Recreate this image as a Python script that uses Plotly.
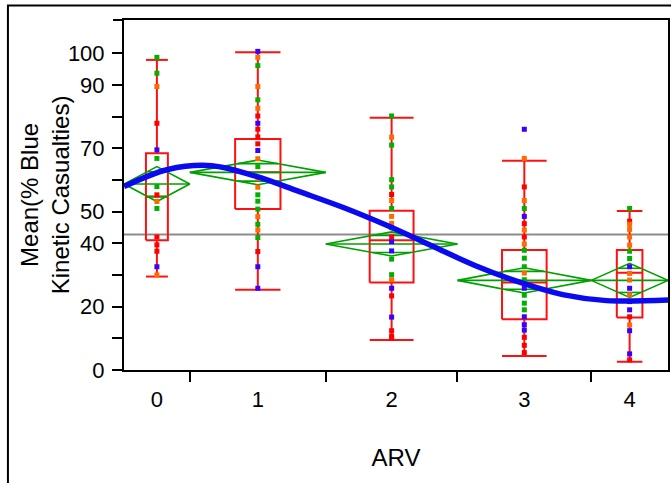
import math
import plotly.graph_objects as go

# ---------------- data ----------------
categories = ["0", "1", "2", "3", "4"]
group_width = [15, 31, 30, 30.5, 17.5]          # relative group sizes (axis width per category)

box_q1 = [41.0, 50.8, 27.6, 16.0, 16.6]
box_median = [54.7, 62.4, 41.0, 27.6, 30.7]
box_q3 = [68.4, 72.9, 50.3, 37.9, 37.9]
whisker_low = [29.5, 25.3, 9.5, 4.4, 2.6]
whisker_high = [97.9, 100.3, 79.6, 66.1, 50.2]

group_mean = [58.7, 62.4, 39.8, 28.3, 28.3]
mean_ci_half = [5.5, 3.9, 3.8, 4.0, 5.4]
grand_mean = 42.8

fit_x = [0, 10, 20, 30, 40, 50, 60, 70, 80, 90, 100, 110, 124]
fit_y = [57.9, 63.3, 64.5, 61.2, 56.3, 51.3, 45.6, 39.3, 33.0, 27.8, 23.8, 21.9, 22.1]

points_0 = [98.7, 93.7, 89.5, 77.9, 69.5, 66.8, 57.9, 55.3, 53.2, 51.0, 42.0, 39.5, 37.5, 32.6, 30.0]
colors_0 = "ggorbggrogrrrbo"
points_1 = [100.6, 98.7, 96.1, 89.5, 85.3, 82.6, 80.2, 77.9, 76.0, 73.6, 71.4, 69.3, 66.7, 64.2,
            60.4, 57.7, 55.3, 53.3, 50.8, 48.4, 46.0, 44.2, 41.8, 37.4, 32.6, 25.8]
colors_1 = "bogogorbrrrbogoogggogogrbbb"
points_2 = [80.2, 73.5, 71.0, 60.1, 57.8, 55.4, 53.5, 51.0, 48.5, 46.3, 44.9, 42.0, 40.5, 37.6,
            35.0, 30.1, 28.5, 25.8, 23.4, 16.7, 12.4, 10.7, 10.0]
colors_2 = "gogggrogoogrbbggobrbrrr"
points_3 = [76.0, 66.8, 57.8, 53.5, 51.0, 48.5, 46.2, 44.2, 42.0, 39.8, 37.8, 35.3, 32.6, 30.6,
            28.5, 25.8, 23.6, 21.1, 19.0, 16.8, 14.3, 12.6, 10.3, 7.8, 5.5]
colors_3 = "borogbrorogggogbgggbbbrrrr"
points_4 = [51.0, 47.0, 46.0, 44.4, 42.0, 39.4, 37.5, 35.2, 32.6, 30.5, 28.4, 25.8, 23.7, 21.6,
            19.0, 16.8, 14.2, 12.4, 5.1, 3.2]
colors_4 = "grooooggboobobbrobbr"

group_points = [points_0, points_1, points_2, points_3, points_4]
group_colors = [colors_0, colors_1, colors_2, colors_3, colors_4]

y_ticks = [0, 10, 20, 30, 40, 50, 60, 70, 80, 90, 100]
y_ticktext = ["0", "", "20", "", "40", "50", "", "70", "", "90", "100"]

# ---------------- styles ----------------
COLOR_MAP = {"r": "#FF0000", "o": "#FF6A00", "g": "#00B000", "b": "#3A00FF"}
BOX_COLOR = "#FF1010"
DIAMOND_COLOR = "#00A000"
FONT = "Arial, Liberation Sans, sans-serif"

lefts = []
acc = 0.0
for w in group_width:
    lefts.append(acc)
    acc += w
total_width = acc
centers = [l + w / 2 for l, w in zip(lefts, group_width)]
boundaries = lefts[1:]

fig = go.Figure()

# grand mean line
fig.add_trace(go.Scatter(x=[0, total_width], y=[grand_mean, grand_mean], mode="lines",
                         line=dict(color="#8C8C8C", width=2), hoverinfo="skip", showlegend=False))

# box plots
for i in range(len(categories)):
    c = centers[i]
    hw = group_width[i] / 6
    q1, med, q3 = box_q1[i], box_median[i], box_q3[i]
    lo, hi = whisker_low[i], whisker_high[i]
    xs = [c - hw, c + hw, c + hw, c - hw, c - hw, None,
          c - hw, c + hw, None,
          c, c, None, c, c, None,
          c - hw, c + hw, None, c - hw, c + hw]
    ys = [q1, q1, q3, q3, q1, None,
          med, med, None,
          q3, hi, None, q1, lo, None,
          hi, hi, None, lo, lo]
    fig.add_trace(go.Scatter(x=xs, y=ys, mode="lines", line=dict(color=BOX_COLOR, width=2),
                             hoverinfo="skip", showlegend=False))

# means diamonds
for i in range(len(categories)):
    L = lefts[i]
    R = lefts[i] + group_width[i]
    c = centers[i]
    m = group_mean[i]
    h = mean_ci_half[i]
    d = h / math.sqrt(2)
    cw = group_width[i] / 2 * (1 - 1 / math.sqrt(2))
    xs = [L, c, R, c, L, None, L, R, None, c - cw, c + cw, None, c - cw, c + cw]
    ys = [m, m + h, m, m - h, m, None, m, m, None, m + d, m + d, None, m - d, m - d]
    fig.add_trace(go.Scatter(x=xs, y=ys, mode="lines", line=dict(color=DIAMOND_COLOR, width=1.6),
                             hoverinfo="skip", showlegend=False))

# points
for i in range(len(categories)):
    vals = group_points[i]
    cols = [COLOR_MAP[k] for k in group_colors[i][:len(vals)]]
    fig.add_trace(go.Scatter(x=[centers[i]] * len(vals), y=vals, mode="markers",
                             marker=dict(symbol="square", size=5, color=cols, line=dict(width=0)),
                             showlegend=False))

# fitted curve
fig.add_trace(go.Scatter(x=fit_x, y=fit_y, mode="lines",
                         line=dict(color="#0A0AF0", width=5.5, shape="spline", smoothing=1.0),
                         hoverinfo="skip", showlegend=False))

W, H = 671, 483
ML, MR, MT, MB = 124, 1, 20, 113
pw = W - ML - MR
ph = H - MT - MB

fig.update_layout(
    width=W, height=H,
    margin=dict(l=ML, r=MR, t=MT, b=MB, pad=0),
    paper_bgcolor="white", plot_bgcolor="white",
    font=dict(family=FONT, color="black"),
    showlegend=False,
    xaxis=dict(range=[0, total_width], showgrid=False, zeroline=False,
               showline=True, linecolor="black", linewidth=2, mirror=True,
               tickmode="array", tickvals=centers, ticktext=categories, ticks="",
               tickfont=dict(size=22), ticklabelstandoff=9,
               minor=dict(tickmode="array", tickvals=boundaries, ticks="outside",
                          ticklen=10, tickwidth=1.5, tickcolor="black", showgrid=False),
               title=dict(text="ARV", font=dict(size=24), standoff=38)),
    yaxis=dict(range=[0, 110.5], showgrid=False, zeroline=False,
               showline=True, linecolor="black", linewidth=2, mirror=True,
               tickmode="array", tickvals=y_ticks, ticktext=y_ticktext,
               ticks="outside", ticklen=10, tickwidth=1.5, tickcolor="black",
               tickfont=dict(size=22), ticklabelstandoff=3),
    shapes=[
        dict(type="rect", xref="paper", yref="paper",
             x0=(7.5 - ML) / pw, x1=1.5, y0=-1.0, y1=1 + (MT - 5.5) / ph,
             line=dict(color="black", width=2), fillcolor="rgba(0,0,0,0)", layer="below"),
        dict(type="line", xref="paper", yref="paper",
             x0=(113 - ML) / pw, x1=0, y0=1, y1=1, line=dict(color="black", width=2)),
    ],
    annotations=[
        dict(text="Mean(% Blue<br>Kinetic Casualties)", xref="paper", yref="paper",
             x=(45 - ML) / pw, y=0.5, xanchor="center", yanchor="middle",
             textangle=-90, showarrow=False, font=dict(size=24)),
    ],
)

fig.write_html("out.html", config={"displayModeBar": False},
               post_script="document.body.style.margin='0';document.body.style.overflow='hidden';")
